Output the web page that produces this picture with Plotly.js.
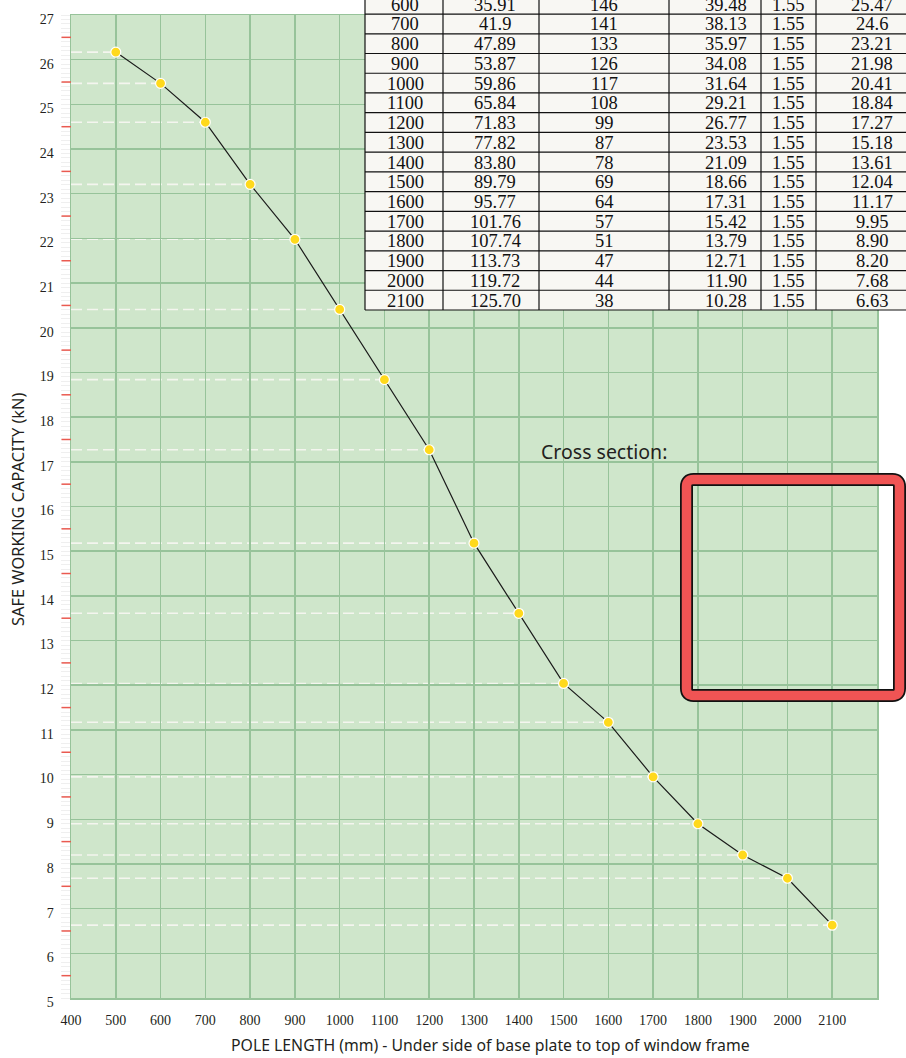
<!DOCTYPE html>
<html>
<head>
<meta charset="utf-8">
<script src="https://cdn.plot.ly/plotly-3.0.1.min.js"></script>
<style>html,body{margin:0;padding:0;background:#fff;}#chart{width:906px;height:1058px;}</style>
</head>
<body>
<div id="chart"></div>
<script>
// ---- data ----
var poleLength = [500, 600, 700, 800, 900, 1000, 1100, 1200, 1300, 1400, 1500, 1600, 1700, 1800, 1900, 2000, 2100];
var capacity = [26.17, 25.47, 24.6, 23.21, 21.98, 20.41, 18.84, 17.27, 15.18, 13.61, 12.04, 11.17, 9.95, 8.90, 8.20, 7.68, 6.63];

var tblLength = ['600','700','800','900','1000','1100','1200','1300','1400','1500','1600','1700','1800','1900','2000','2100'];
var tblCol2 = ['35.91','41.9','47.89','53.87','59.86','65.84','71.83','77.82','83.80','89.79','95.77','101.76','107.74','113.73','119.72','125.70'];
var tblCol3 = ['146','141','133','126','117','108','99','87','78','69','64','57','51','47','44','38'];
var tblCol4 = ['39.48','38.13','35.97','34.08','31.64','29.21','26.77','23.53','21.09','18.66','17.31','15.42','13.79','12.71','11.90','10.28'];
var tblCol5 = ['1.55','1.55','1.55','1.55','1.55','1.55','1.55','1.55','1.55','1.55','1.55','1.55','1.55','1.55','1.55','1.55'];
var tblCol6 = ['25.47','24.6','23.21','21.98','20.41','18.84','17.27','15.18','13.61','12.04','11.17','9.95','8.90','8.20','7.68','6.63'];

var xTickVals = [400,500,600,700,800,900,1000,1100,1200,1300,1400,1500,1600,1700,1800,1900,2000,2100];
var yTickVals = [5,6,7,8,9,10,11,12,13,14,15,16,17,18,19,20,21,22,23,24,25,26,27];

var xTitle = 'POLE LENGTH (mm) - Under side of base plate to top of window frame';
var yTitle = 'SAFE WORKING CAPACITY (kN)';
var crossLabel = 'Cross section:';

var SERIF = "'Liberation Serif', 'Times New Roman', Times, serif";
var SANS = "'Noto Sans', 'Open Sans', sans-serif";

// ---- geometry (pixels) ----
var W = 906, H = 1058;
var mL = 71, mR = 29, mT = 15, mB = 60;
var pw = W - mL - mR, ph = H - mT - mB;
function px(x){ return (x - mL) / pw; }
function py(y){ return (H - mB - y) / ph; }

var shapes = [];
var annotations = [];

// dashed guide lines from left edge to each point
for (var i = 0; i < poleLength.length; i++) {
  shapes.push({type:'line', xref:'x', yref:'y', x0:400, x1:poleLength[i], y0:capacity[i], y1:capacity[i],
    line:{color:'rgba(245,245,240,0.95)', width:1.6, dash:'11px,5px'}, layer:'below'});
}
// red half-unit ticks on the left of y axis
for (var v = 5.5; v < 27; v += 1) {
  shapes.push({type:'line', xref:'paper', yref:'y', x0:px(61.5), x1:px(71), y0:v, y1:v,
    line:{color:'#ea5a50', width:1.5}});
}

// table
var rowH = 19.73, tblBottom = 310, nRows = tblLength.length;
var colEdges = [365, 443, 539, 669, 761, 816, 940];
var colCenters = [405, 495, 604, 726, 788, 872];
var tblTop = tblBottom - nRows * rowH;
shapes.push({type:'rect', xref:'paper', yref:'paper', x0:px(365), x1:px(940), y0:py(tblTop - 5), y1:py(tblBottom),
  fillcolor:'#f8f7f3', line:{width:0}, layer:'above'});
for (var r = 0; r <= nRows; r++) {
  var yy = tblBottom - r * rowH;
  shapes.push({type:'line', xref:'paper', yref:'paper', x0:px(365), x1:px(940), y0:py(yy), y1:py(yy),
    line:{color:'#111', width:1.2}, layer:'above'});
}
for (var c = 0; c < colEdges.length; c++) {
  shapes.push({type:'line', xref:'paper', yref:'paper', x0:px(colEdges[c]), x1:px(colEdges[c]), y0:py(tblTop - 5), y1:py(tblBottom),
    line:{color:'#111', width:1.2}, layer:'above'});
}
var cols = [tblLength, tblCol2, tblCol3, tblCol4, tblCol5, tblCol6];
for (var r2 = 0; r2 < nRows; r2++) {
  var cy = tblTop + (r2 + 0.5) * rowH;
  for (var c2 = 0; c2 < cols.length; c2++) {
    annotations.push({xref:'paper', yref:'paper', x:px(colCenters[c2]), y:py(cy + 0.5), xanchor:'center', yanchor:'middle',
      text:cols[c2][r2], showarrow:false, font:{family:SERIF, size:18.5, color:'#111'}});
  }
}

// cross section label + box
annotations.push({xref:'paper', yref:'paper', x:px(539), y:py(452), xanchor:'left', yanchor:'middle', text:crossLabel,
  showarrow:false, font:{family:SANS, size:19.5, color:'#231f20'}});
function roundRect(x0, y0, x1, y1, rr) {
  function P(x, y){ return px(x) + ',' + py(y); }
  return 'M' + P(x0 + rr, y0) + ' L' + P(x1 - rr, y0) + ' Q' + P(x1, y0) + ' ' + P(x1, y0 + rr) +
    ' L' + P(x1, y1 - rr) + ' Q' + P(x1, y1) + ' ' + P(x1 - rr, y1) +
    ' L' + P(x0 + rr, y1) + ' Q' + P(x0, y1) + ' ' + P(x0, y1 - rr) +
    ' L' + P(x0, y0 + rr) + ' Q' + P(x0, y0) + ' ' + P(x0 + rr, y0) + ' Z';
}
var boxPath = roundRect(686.5, 479.5, 899.5, 695.5, 7);
shapes.push({type:'path', xref:'paper', yref:'paper', path:boxPath, line:{color:'#111', width:13}, layer:'above'});
shapes.push({type:'path', xref:'paper', yref:'paper', path:boxPath, line:{color:'#f05454', width:9.5}, layer:'above'});

// axis titles
annotations.push({xref:'paper', yref:'paper', x:px(490), y:py(1045), xanchor:'center', yanchor:'middle', text:xTitle,
  showarrow:false, font:{family:SANS, size:15.8, color:'#231f20'}});
annotations.push({xref:'paper', yref:'paper', x:px(18), y:py(509), xanchor:'center', yanchor:'middle', text:yTitle,
  textangle:-90, showarrow:false, font:{family:SANS, size:16.4, color:'#231f20'}});

var trace = {
  x: poleLength, y: capacity, type:'scatter', mode:'lines+markers',
  line:{color:'#1a1a1a', width:1.2},
  marker:{color:'#ffd91c', size:10, line:{color:'#ffffff', width:1.2}},
  hoverinfo:'x+y', cliponaxis:false
};

var layout = {
  width: W, height: H,
  margin:{l:mL, r:mR, t:mT, b:mB, pad:0},
  paper_bgcolor:'#ffffff', plot_bgcolor:'#cfe6cb',
  showlegend:false,
  xaxis:{range:[400,2200], tickvals:xTickVals, ticktext:xTickVals.map(String), ticks:'', showgrid:true,
    gridcolor:'#97c39a', gridwidth:1.5, zeroline:false, showline:true, linecolor:'#97c39a', linewidth:1.5, mirror:true,
    tickfont:{family:SERIF, size:14, color:'#231f20'}, ticklabelstandoff:9},
  yaxis:{range:[5,27], tickvals:yTickVals, ticktext:yTickVals.map(String), ticks:'', showgrid:true,
    gridcolor:'#97c39a', gridwidth:1.5, zeroline:false, showline:true, linecolor:'#97c39a', linewidth:1.5, mirror:true,
    tickfont:{family:SERIF, size:14, color:'#231f20'}, ticklabelstandoff:13, ticklabelshift:4,
    minor:{dtick:0.1, ticks:'outside', ticklen:9, tickcolor:'#efefef', tickwidth:1, showgrid:false}},
  shapes: shapes,
  annotations: annotations
};

Plotly.newPlot('chart', [trace], layout, {displayModeBar:false, staticPlot:true});
</script>
</body>
</html>
